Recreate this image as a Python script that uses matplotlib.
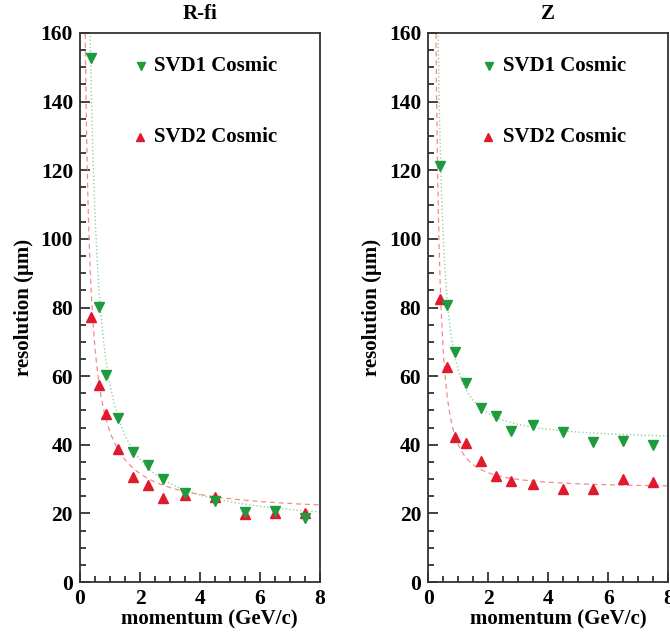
import numpy as np
import matplotlib
matplotlib.use("Agg")
from matplotlib import pyplot as plt
from matplotlib.ticker import MultipleLocator

plt.rcParams['font.family'] = ['Liberation Serif', 'DejaVu Serif']
plt.rcParams['font.weight'] = 'bold'

# momentum bins (GeV/c)
p_bins = [0.375, 0.625, 0.875, 1.25, 1.75, 2.25, 2.75, 3.5, 4.5, 5.5, 6.5, 7.5]

# resolution (um)
rphi_svd1 = [152.8, 80.2, 60.3, 47.8, 38.0, 34.0, 30.0, 26.0, 23.6, 20.4, 20.6, 18.7]
rphi_svd2 = [77.3, 57.4, 49.0, 38.8, 30.7, 28.3, 24.5, 25.4, 24.7, 19.8, 20.2, 20.2]
z_svd1 = [121.1, 80.6, 67.0, 58.0, 50.7, 48.5, 44.1, 45.8, 43.8, 40.9, 41.1, 39.9]
z_svd2 = [82.5, 62.8, 42.2, 40.6, 35.3, 31.0, 29.4, 28.5, 27.0, 27.0, 30.0, 29.2]

# fit curves: sigma = a + b/p + c/p^2
rphi_fit_svd1 = (15.6, 38.2, 3.77)
rphi_fit_svd2 = (19.4, 24.4, 0.0)
z_fit_svd1 = (40.9, 12.2, 8.69)
z_fit_svd2 = (27.2, 5.7, 7.12)

green = '#1f9a3f'
red = '#e0192c'
green_fit = '#8fd39b'
red_fit = '#f28c8c'

fig = plt.figure(figsize=(6.7, 6.37), dpi=100)

panels = [
    ("R-fi", 80, rphi_svd1, rphi_svd2, rphi_fit_svd1, rphi_fit_svd2),
    ("Z", 428.3, z_svd1, z_svd2, z_fit_svd1, z_fit_svd2),
]

def fit_curve(pars, p):
    a, b, c = pars
    return a + b / p + c / p ** 2

pp = np.linspace(0.1, 8, 500)

for title, x0, s1, s2, f1, f2 in panels:
    ax = fig.add_axes([x0 / 670, 55 / 637, 240 / 670, 549 / 637])

    ax.plot(pp, fit_curve(f2, pp), '--', color=red_fit, lw=0.9, dashes=(4, 3))
    ax.plot(pp, fit_curve(f1, pp), ':', color=green_fit, lw=1.0)
    ax.plot(p_bins, s2, '^', color=red, ms=7.5, mec=red, ls='none')
    ax.plot(p_bins, s1, 'v', color=green, ms=7.5, mec=green, ls='none')

    ax.set_xlim(0, 8)
    ax.set_ylim(0, 160)
    ax.xaxis.set_major_locator(MultipleLocator(2))
    ax.xaxis.set_minor_locator(MultipleLocator(0.5))
    ax.yaxis.set_major_locator(MultipleLocator(20))
    ax.yaxis.set_minor_locator(MultipleLocator(5))
    ax.tick_params(which='both', direction='in', top=False, right=False,
                   labelsize=15.5, width=1.3, color='#333333')
    ax.tick_params(which='major', length=7.5, pad=5)
    ax.tick_params(which='minor', length=4)
    for lab in ax.get_xticklabels() + ax.get_yticklabels():
        lab.set_fontweight('bold')
    for sp in ax.spines.values():
        sp.set_color('#333333')
        sp.set_linewidth(1.3)

    ax.set_title(title, fontsize=15, fontweight='bold', pad=10)
    ax.text(0.908, -0.069, "momentum (GeV/c)", transform=ax.transAxes,
            ha='right', va='center', fontsize=15, fontweight='bold')
    ax.text(-0.235, 0.5, "resolution (\u03bcm)", transform=ax.transAxes,
            rotation=90, ha='center', va='center', fontsize=15, fontweight='bold')

    # legend entries
    ax.plot([0.253], [0.939], 'v', color=green, ms=5.5, transform=ax.transAxes)
    ax.text(0.31, 0.939, "SVD1 Cosmic", transform=ax.transAxes,
            ha='left', va='center', fontsize=15, fontweight='bold')
    ax.plot([0.25], [0.811], '^', color=red, ms=5.5, transform=ax.transAxes)
    ax.text(0.31, 0.811, "SVD2 Cosmic", transform=ax.transAxes,
            ha='left', va='center', fontsize=15, fontweight='bold')

fig.savefig("out.png", dpi=100)
